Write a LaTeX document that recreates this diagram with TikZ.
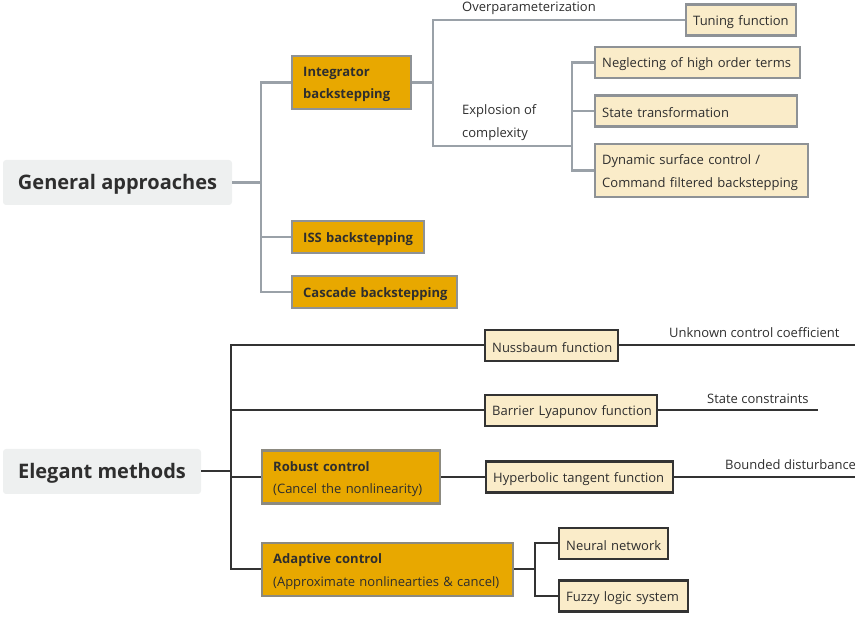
\documentclass[tikz,border=0pt]{standalone}
\usepackage{fontspec}
\setmainfont{Open Sans}
\definecolor{txt}{HTML}{2E2E2E}
\definecolor{rootgray}{HTML}{EEF0F0}
\definecolor{goldc}{HTML}{E8A800}
\definecolor{creamc}{HTML}{FAECC9}
\definecolor{bordgray}{HTML}{8E9296}
\definecolor{linegray}{HTML}{9AA1A8}
\definecolor{darkline}{HTML}{333333}
\definecolor{goldbord}{HTML}{8C8A80}
\newcommand{\lowr}[1]{\raisebox{-2pt}[\height][\depth]{#1}}
\tikzset{
  rootbox/.style={fill=rootgray, rounded corners=3pt, text=txt, inner sep=0pt,
    minimum height=45pt, font=\fontsize{20}{24}\selectfont\bfseries},
  goldbox/.style={fill=goldc, draw=bordgray, line width=2.4pt, text=txt, anchor=west,
    align=left, inner xsep=11pt, inner ysep=2pt,
    font=\fontsize{13}{22.5}\selectfont},
  creambox/.style={fill=creamc, draw=bordgray, line width=2.4pt, text=txt, anchor=west,
    align=left, inner xsep=7pt, inner ysep=2pt, minimum height=31pt,
    font=\fontsize{13}{22.5}\selectfont},
  darkbord/.style={draw=darkline},
  goldbord2/.style={draw=goldbord},
  lbl/.style={text=txt, anchor=west, align=left, inner sep=0pt,
    font=\fontsize{13}{22.5}\selectfont},
  gline/.style={draw=linegray, line width=2.6pt},
  dline/.style={draw=darkline, line width=2pt},
}
\begin{document}
\begin{tikzpicture}[x=1pt,y=-1pt]
\useasboundingbox (0,0) rectangle (855,617);
% ---------- top tree ----------
\node[rootbox, minimum width=229pt] (ga) at (117.5,182.5) {\lowr{General approaches}};
\node[goldbox, text width=97pt, minimum height=53pt] (int) at (291,82.5) {\lowr{\textbf{Integrator}}\\\lowr{\textbf{backstepping}}};
\node[goldbox, text width=110pt, minimum height=32pt] (iss) at (291,237) {\lowr{\textbf{ISS backstepping}}};
\node[goldbox, text width=143pt, minimum height=32pt] (cas) at (291,292) {\lowr{\textbf{Cascade backstepping}}};
\node[creambox, text width=96pt] (tun) at (685,20) {\lowr{Tuning function}};
\node[creambox, text width=191pt] (neg) at (594,62.5) {\lowr{Neglecting of high order terms}};
\node[creambox, text width=188pt] (sta) at (594,111) {\lowr{State transformation}};
\node[creambox, text width=199pt, minimum height=53pt] (dyn) at (594,170.5) {\lowr{Dynamic surface control /}\\\lowr{Command filtered backstepping}};
\node[lbl] (op) at (462,8) {Overparameterization};
\node[lbl] (ex) at (462,122.5) {Explosion of\\complexity};
\coordinate (j1) at (261,182.5);
\coordinate (j2) at (433,82.5);
\coordinate (j3) at (572,146);
\draw[gline] (ga.east) -- (j1);
\draw[gline] (j1) |- (int.west);
\draw[gline] (j1) |- (iss.west);
\draw[gline] (j1) |- (cas.west);
\draw[gline] (int.east) -- (j2);
\draw[gline] (j2) |- (tun.west);
\draw[gline] (j2) |- (j3);
\draw[gline] (j3) |- (neg.west);
\draw[gline] (j3) |- (sta.west);
\draw[gline] (j3) |- (dyn.west);
% ---------- bottom tree ----------
\node[rootbox, minimum width=198pt] (em) at (102,471.5) {\lowr{Elegant methods}};
\node[creambox, darkbord, text width=119pt] (nus) at (484,345.5) {\lowr{Nussbaum function}};
\node[creambox, darkbord, text width=158pt] (bar) at (484,410.5) {\lowr{Barrier Lyapunov function}};
\node[goldbox, goldbord2, text width=156pt, minimum height=53pt] (rob) at (261,477) {\lowr{\textbf{Robust control}}\\\lowr{(Cancel the nonlinearity)}};
\node[creambox, darkbord, text width=173pt] (hyp) at (485,477) {\lowr{Hyperbolic tangent function}};
\node[goldbox, goldbord2, text width=229pt, minimum height=53pt] (ada) at (261,569.5) {\lowr{\textbf{Adaptive control}}\\\lowr{(Approximate nonlinearties \& cancel)}};
\node[creambox, darkbord, text width=95pt] (neu) at (558,543.5) {\lowr{Neural network}};
\node[creambox, darkbord, text width=115pt] (fuz) at (558,596) {\lowr{Fuzzy logic system}};
\node[lbl] (uc) at (669,333) {Unknown control coefficient};
\node[lbl] (sc) at (707,398.5) {State constraints};
\node[lbl] (bd) at (725,465) {Bounded disturbance};
\coordinate (k1) at (231,471.5);
\coordinate (k2) at (535,569.5);
\coordinate (e1) at (855,345.5);
\coordinate (e2) at (818,410.5);
\coordinate (e3) at (855,477);
\draw[dline] (em.east) -- (k1);
\draw[dline] (k1) |- (nus.west);
\draw[dline] (k1) |- (bar.west);
\draw[dline] (k1) |- (rob.west);
\draw[dline] (k1) |- (ada.west);
\draw[dline] (rob.east) -- (hyp.west);
\draw[dline] (ada.east) -- (k2);
\draw[dline] (k2) |- (neu.west);
\draw[dline] (k2) |- (fuz.west);
\draw[dline] (nus.east) -- (e1);
\draw[dline] (bar.east) -- (e2);
\draw[dline] (hyp.east) -- (e3);
\end{tikzpicture}
\end{document}
